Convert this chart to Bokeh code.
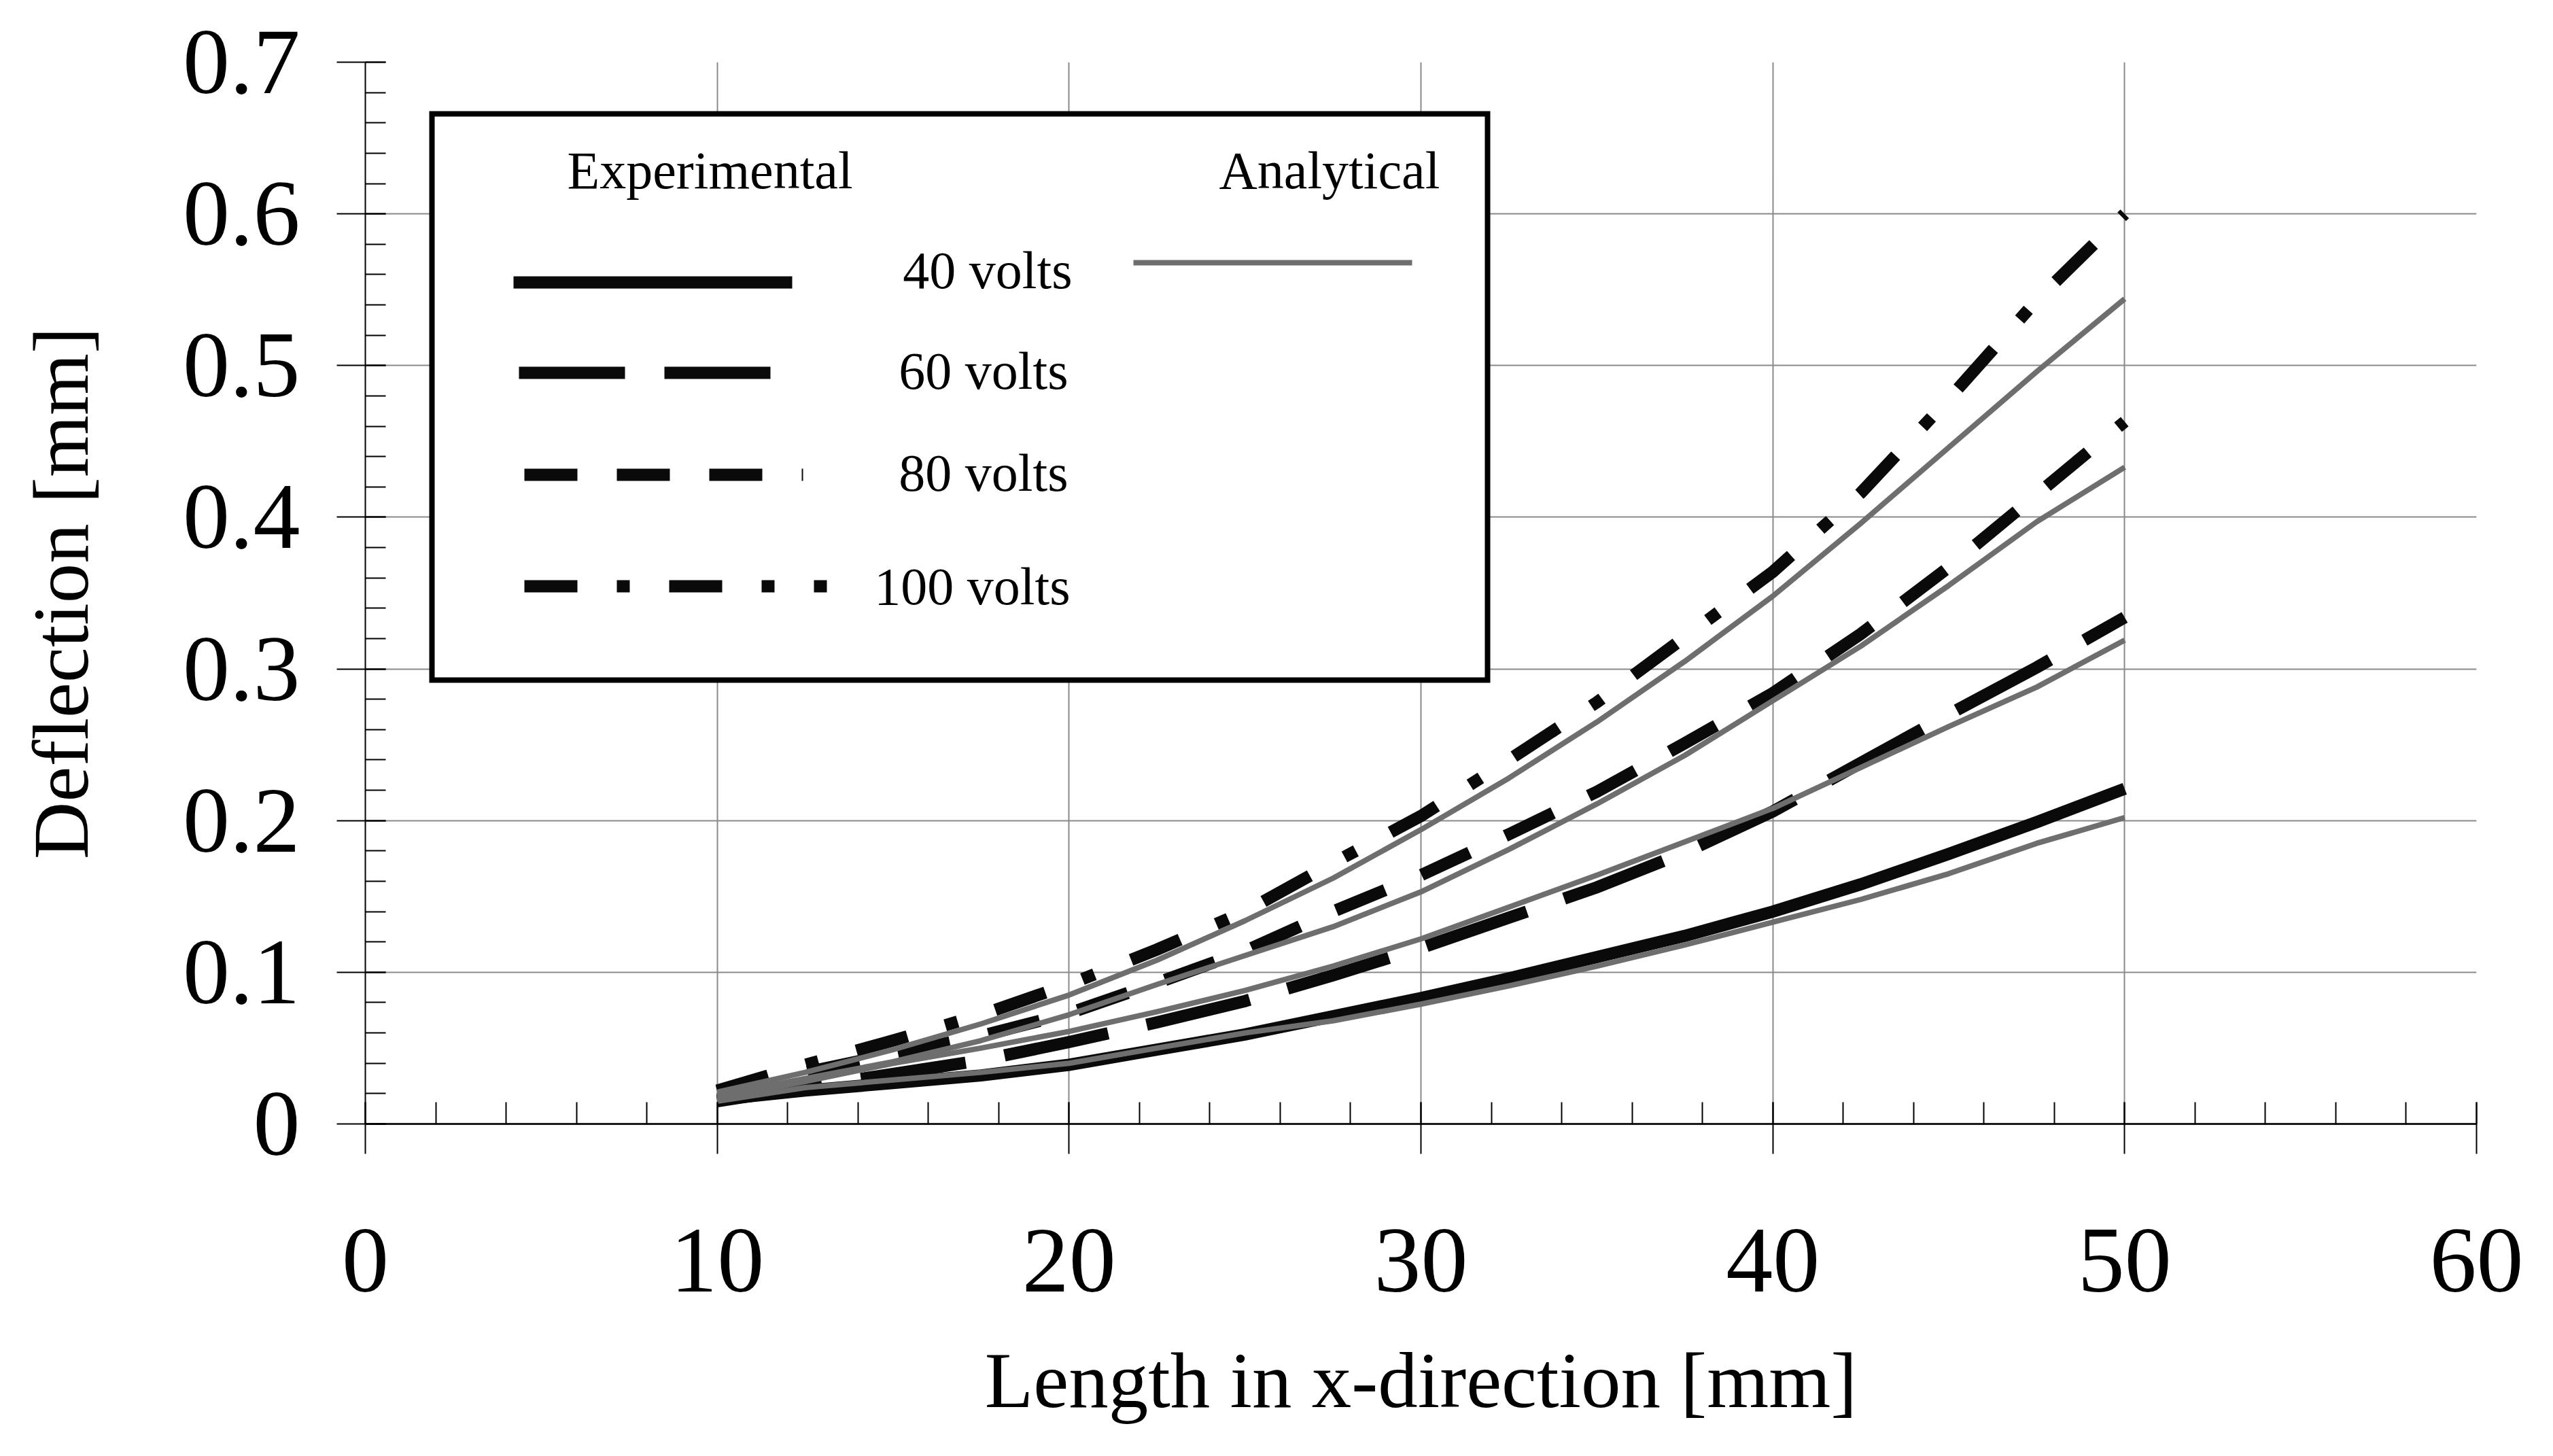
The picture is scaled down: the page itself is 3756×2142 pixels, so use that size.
from bokeh.plotting import figure
from bokeh.models import Range1d, FixedTicker, NumeralTickFormatter
from bokeh.core.properties import value
from bokeh.embed import file_html
from bokeh.resources import INLINE

# ---------------- data ----------------
x_mm = [10, 12.5, 15, 17.5, 20, 22.5, 25, 27.5, 30, 32.5, 35, 37.5, 40, 42.5, 45, 47.5, 50]

exp_40 = [0.016, 0.022, 0.027, 0.032, 0.039, 0.049, 0.059, 0.071, 0.083, 0.096, 0.110, 0.124, 0.140, 0.158, 0.178, 0.199, 0.221]
exp_60 = [0.015, 0.024, 0.033, 0.042, 0.054, 0.067, 0.081, 0.098, 0.116, 0.136, 0.156, 0.179, 0.206, 0.238, 0.270, 0.301, 0.334]
exp_80 = [0.021, 0.034, 0.046, 0.058, 0.073, 0.093, 0.114, 0.140, 0.164, 0.191, 0.219, 0.251, 0.284, 0.323, 0.367, 0.415, 0.463]
exp_100 = [0.022, 0.039, 0.055, 0.072, 0.092, 0.115, 0.140, 0.172, 0.203, 0.240, 0.278, 0.321, 0.364, 0.416, 0.478, 0.543, 0.600]

ana_40 = [0.015, 0.024, 0.029, 0.034, 0.040, 0.050, 0.060, 0.068, 0.079, 0.091, 0.104, 0.118, 0.133, 0.148, 0.165, 0.185, 0.202]
ana_60 = [0.017, 0.028, 0.040, 0.050, 0.061, 0.074, 0.088, 0.104, 0.122, 0.143, 0.164, 0.186, 0.208, 0.235, 0.262, 0.288, 0.319]
ana_80 = [0.019, 0.030, 0.041, 0.055, 0.072, 0.092, 0.111, 0.130, 0.153, 0.181, 0.211, 0.243, 0.279, 0.315, 0.355, 0.397, 0.433]
ana_100 = [0.021, 0.034, 0.049, 0.066, 0.085, 0.108, 0.134, 0.162, 0.194, 0.228, 0.265, 0.305, 0.348, 0.396, 0.446, 0.496, 0.544]

series_labels = ["40 volts", "60 volts", "80 volts", "100 volts"]
legend_headers = ["Experimental", "Analytical"]
x_title = "Length in x-direction [mm]"
y_title = "Deflection [mm]"

x_ticks = [0, 10, 20, 30, 40, 50, 60]
x_minor = [0, 2, 4, 6, 8, 10, 12, 14, 16, 18, 20, 22, 24, 26, 28, 30,
           32, 34, 36, 38, 40, 42, 44, 46, 48, 50, 52, 54, 56, 58, 60]
y_ticks = [0, 0.1, 0.2, 0.3, 0.4, 0.5, 0.6, 0.7]
y_minor = [0, 0.02, 0.04, 0.06, 0.08, 0.1, 0.12, 0.14, 0.16, 0.18, 0.2, 0.22, 0.24,
           0.26, 0.28, 0.3, 0.32, 0.34, 0.36, 0.38, 0.4, 0.42, 0.44, 0.46, 0.48, 0.5,
           0.52, 0.54, 0.56, 0.58, 0.6, 0.62, 0.64, 0.66, 0.68, 0.7]

# ---------------- layout / style ----------------
FONT = "Liberation Serif"
W, H = 3736, 2120
FL, FR, FT, FB = 537, 3643, 91, 1653   # frame edges in page pixels
XMAX, YMAX = 60, 0.7

BLACK = "#0a0a0a"
GRAY = "#6e6e6e"
EXP_W = 18
ANA_W = 8
dashes = ["solid", "156 58", "78 58", "78 58 19 58"]

p = figure(width=W, height=H,
           x_range=Range1d(0, XMAX), y_range=Range1d(0, YMAX),
           output_backend="svg", toolbar_location=None,
           min_border_left=FL, min_border_right=W - FR,
           min_border_top=FT, min_border_bottom=H - FB)
p.outline_line_color = None
p.background_fill_color = "white"
p.border_fill_color = "white"

xt = FixedTicker(ticks=x_ticks, minor_ticks=x_minor)
yt = FixedTicker(ticks=y_ticks, minor_ticks=y_minor)
p.xaxis.ticker = xt
p.yaxis.ticker = yt
p.xgrid.ticker = xt
p.ygrid.ticker = yt
p.yaxis.formatter = NumeralTickFormatter(format="0.[0]")

for g in (p.xgrid, p.ygrid):
    g.grid_line_color = "#8a8a8a"
    g.grid_line_width = 2

for ax in (p.xaxis, p.yaxis):
    ax.major_label_text_font = FONT
    ax.major_label_text_font_size = "138px"
    ax.major_label_text_color = "black"
    ax.axis_label_text_font = FONT
    ax.axis_label_text_font_size = "117px"
    ax.axis_label_text_font_style = "normal"
    ax.axis_label_text_color = "black"
    ax.major_tick_line_color = "black"
    ax.minor_tick_line_color = "black"
    ax.major_tick_line_width = 2
    ax.minor_tick_line_width = 2
    ax.minor_tick_out = 0

p.xaxis.axis_label = x_title
p.yaxis.axis_label = y_title

p.xaxis.axis_line_color = "#1a1a1a"
p.xaxis.axis_line_width = 3
p.xaxis.major_tick_out = 44
p.xaxis.major_tick_in = 32
p.xaxis.minor_tick_in = 32
p.xaxis.major_label_standoff = 111
p.xaxis.axis_label_standoff = 63

p.yaxis.axis_line_color = "black"
p.yaxis.axis_line_width = 2
p.yaxis.major_tick_out = 42
p.yaxis.major_tick_in = 30
p.yaxis.minor_tick_in = 30
p.yaxis.major_label_standoff = 54
p.yaxis.axis_label_standoff = 112

exp_series = [exp_40, exp_60, exp_80, exp_100]
ana_series = [ana_40, ana_60, ana_80, ana_100]
for ys, dash in zip(exp_series, dashes):
    p.line(x_mm, ys, line_color=BLACK, line_width=EXP_W, line_dash=dash,
           line_join="miter")
for ys in ana_series:
    p.line(x_mm, ys, line_color=GRAY, line_width=ANA_W, line_join="round")

# ---------------- legend box (page-pixel layout -> data coords) ----------------
def dx(px):
    return XMAX * (px - FL) / (FR - FL)

def dy(py):
    return YMAX * (FB - py) / (FB - FT)

p.quad(left=[dx(635)], right=[dx(2188)], top=[dy(167)], bottom=[dy(1000)],
       fill_color="white", line_color="black", line_width=8, line_join="miter")

p.text(x=[dx(834), dx(1793)], y=[dy(250), dy(250)], text=legend_headers,
       text_font=value(FONT), text_font_size="78px", text_color="black",
       text_align="left", text_baseline="alphabetic")

lab_right = [1577, 1571, 1571, 1574]
lab_base = [397, 545, 695, 862]
p.text(x=[dx(v) for v in lab_right], y=[dy(v) for v in lab_base], text=series_labels,
       text_font=value(FONT), text_font_size="78px", text_color="black",
       text_align="right", text_baseline="alphabetic")

sw_x0 = [755, 763, 771, 771]
sw_x1 = [1165, 1191, 1181, 1216]
sw_y = [415, 548, 698, 862]
for x0, x1, yy, dash in zip(sw_x0, sw_x1, sw_y, dashes):
    p.line([dx(x0), dx(x1)], [dy(yy), dy(yy)], line_color=BLACK,
           line_width=EXP_W, line_dash=dash)
p.line([dx(1667), dx(2077)], [dy(386), dy(386)], line_color=GRAY, line_width=ANA_W)

open("out.html", "w").write(file_html(p, INLINE))
